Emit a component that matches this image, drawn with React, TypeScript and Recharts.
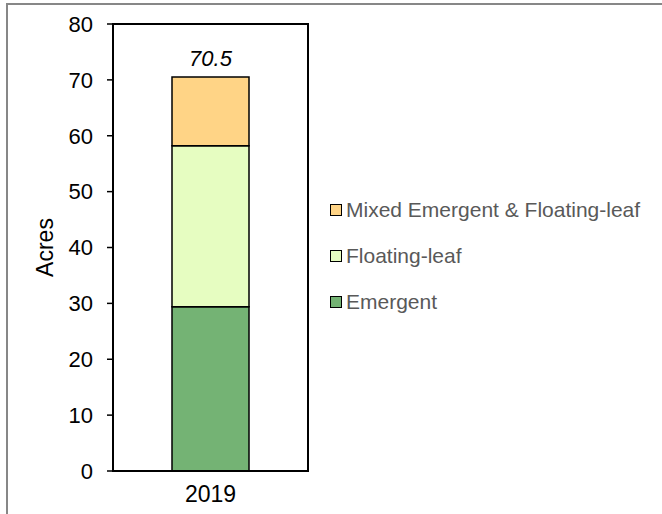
import { BarChart, Bar, XAxis, YAxis, ReferenceArea, LabelList } from 'recharts';

const YEARS = ['2019'];
const EMERGENT = [29.4];
const FLOATING_LEAF = [28.8];
const MIXED = [12.3];
const TOTALS = ['70.5'];
const Y_TICKS = [0, 10, 20, 30, 40, 50, 60, 70, 80];

const SERIES = [
  { key: 'emergent', name: 'Emergent', color: '#74B374' },
  { key: 'floating', name: 'Floating-leaf', color: '#E6FDC1' },
  { key: 'mixed', name: 'Mixed Emergent & Floating-leaf', color: '#FFD486' },
];

const data = YEARS.map((year, i) => ({
  year,
  emergent: EMERGENT[i],
  floating: FLOATING_LEAF[i],
  mixed: MIXED[i],
  total: TOTALS[i],
}));

const FONT = 'Arial, "Liberation Sans", sans-serif';

export default function App() {
  return (
    <div style={{ position: 'absolute', left: 0, top: 0, width: 662, height: 514, overflow: 'hidden', background: '#fff', fontFamily: FONT }}>
      {/* outer chart frame */}
      <div style={{ position: 'absolute', left: 6, top: 3, width: 700, height: 560, border: '2px solid #878787' }} />
      <BarChart
        width={662}
        height={514}
        data={data}
        margin={{ top: 24, right: 354, bottom: 3, left: 0 }}
        barSize={77}
      >
        <XAxis
          dataKey="year"
          axisLine={{ stroke: '#000', strokeWidth: 2 }}
          tickLine={false}
          height={40}
          tick={{ fill: '#000', fontSize: 23, fontFamily: FONT, dy: 7 }}
        />
        <YAxis
          domain={[0, 80]}
          ticks={Y_TICKS}
          width={113}
          interval={0}
          axisLine={{ stroke: '#000', strokeWidth: 2 }}
          tickLine={{ stroke: '#000', strokeWidth: 1.5 }}
          tickSize={6}
          tickMargin={14}
          tick={{ fill: '#000', fontSize: 22, fontFamily: FONT }}
          label={{ value: 'Acres', angle: -90, position: 'center', dx: -12, fill: '#000', fontSize: 23, fontFamily: FONT }}
        />
        <ReferenceArea y1={0} y2={80} fill="none" stroke="#000" strokeWidth={2} ifOverflow="visible" />
        {SERIES.map((s, idx) => (
          <Bar
            key={s.key}
            dataKey={s.key}
            name={s.name}
            stackId="a"
            fill={s.color}
            stroke="#000"
            strokeWidth={1.5}
            isAnimationActive={false}
          >
            {idx === SERIES.length - 1 && (
              <LabelList
                dataKey="total"
                position="top"
                offset={11}
                fill="#000"
                fontSize={22}
                fontStyle="italic"
                fontFamily={FONT}
              />
            )}
          </Bar>
        ))}
      </BarChart>
      {/* legend */}
      <div style={{ position: 'absolute', left: 330, top: 196, display: 'flex', flexDirection: 'column', gap: 19 }}>
        {[...SERIES].reverse().map((s) => (
          <div key={s.key} style={{ display: 'flex', alignItems: 'center', height: 27, fontSize: 21, color: '#595959' }}>
            <span style={{ width: 10, height: 10, background: s.color, border: '1.5px solid #000', marginRight: 4 }} />
            <span>{s.name}</span>
          </div>
        ))}
      </div>
    </div>
  );
}
